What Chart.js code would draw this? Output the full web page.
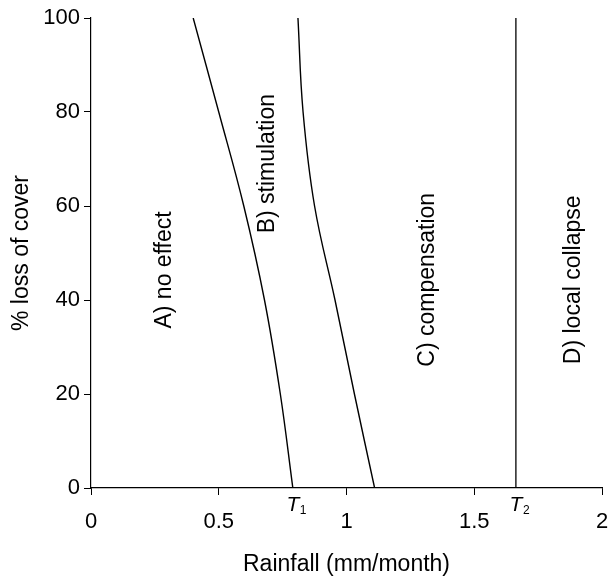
<!DOCTYPE html>
<html>
<head>
<meta charset="utf-8">
<script src="https://cdn.jsdelivr.net/npm/chart.js@4"></script>
<style>
    body { margin: 0; background: #fff; }
    #wrap { width: 608px; height: 579px; }
</style>
</head>
<body>
<div id="wrap"><canvas id="rainChart" width="608" height="579"></canvas></div>
<script>
// % loss of cover (y) sampled along the two boundary curves
const coverLoss = [100, 80, 60, 40, 20, 0];
// rainfall (mm/month) on the no effect / stimulation boundary
const stimBoundary = [0.40, 0.50, 0.598, 0.679, 0.741, 0.79];
// rainfall on the stimulation / compensation boundary
const compBoundary = [0.81, 0.83, 0.875, 0.955, 1.031, 1.11];
// rainfall of the local collapse threshold (vertical line)
const collapseRain = 1.663;
const collapseCover = [0, 100];

const xTicks = [0, 0.5, 1, 1.5, 2];
const yTicks = [0, 20, 40, 60, 80, 100];

const thresholdSubs = ['1', '2'];
const thresholdValues = [0.79, 1.663];

const regionNames = ['A) no effect', 'B) stimulation', 'C) compensation', 'D) local collapse'];

const FONT = "'Liberation Sans', Arial, sans-serif";

// where the rotated region names sit, in data units
const regionAnchors = {
    x: [0.29, 0.693, 1.319, 1.89],
    y: [46.4, 69, 44.3, 44.3]
};

const annotatePlugin = {
    id: 'annotate',
    afterDatasetsDraw(chart) {
        const ctx = chart.ctx;
        const xs = chart.scales.x;
        const ys = chart.scales.y;
        ctx.save();
        ctx.fillStyle = '#000';

        // region names, rotated
        ctx.font = `23px ${FONT}`;
        ctx.textAlign = 'center';
        ctx.textBaseline = 'middle';
        regionNames.forEach((name, i) => {
            const px = xs.getPixelForValue(regionAnchors.x[i]);
            const py = ys.getPixelForValue(regionAnchors.y[i]);
            ctx.save();
            ctx.translate(px, py);
            ctx.rotate(-Math.PI / 2);
            ctx.fillText(name, 0, 0);
            ctx.restore();
        });

        // T1 / T2 under the axis
        thresholdValues.forEach((v, i) => {
            const px = xs.getPixelForValue(v);
            const py = xs.top + 17;
            ctx.font = `italic 21px ${FONT}`;
            ctx.textAlign = 'center';
            ctx.fillText('T', px, py);
            ctx.font = `12px ${FONT}`;
            ctx.textAlign = 'left';
            ctx.fillText(thresholdSubs[i], px + 7, py + 6);
        });
        ctx.restore();
    }
};

const toPoints = (xsArr, ysArr) => xsArr.map((x, i) => ({ x: x, y: ysArr[i] }));

const lineStyle = {
    borderColor: '#000',
    borderWidth: 1.4,
    pointRadius: 0,
    showLine: true,
    fill: false
};

const curveStyle = Object.assign({ tension: 0.4 }, lineStyle);

new Chart(document.getElementById('rainChart').getContext('2d'), {
    type: 'scatter',
    data: {
        datasets: [
            Object.assign({ data: toPoints(stimBoundary, coverLoss) }, curveStyle),
            Object.assign({ data: toPoints(compBoundary, coverLoss) }, curveStyle),
            Object.assign({ data: collapseCover.map(y => ({ x: collapseRain, y: y })) }, lineStyle, { borderWidth: 1.3 })
        ]
    },
    options: {
        responsive: false,
        animation: false,
        layout: { padding: { top: 18, right: 6, left: 0, bottom: 0 } },
        plugins: {
            legend: { display: false },
            tooltip: { enabled: false }
        },
        scales: {
            x: {
                type: 'linear',
                min: 0,
                max: 2,
                afterBuildTicks: (s) => { s.ticks = xTicks.map(v => ({ value: v })); },
                afterFit: (s) => { s.height = 91; s.paddingRight = 0; s.paddingLeft = 0; },
                grid: { display: true, drawOnChartArea: false, tickLength: 7, tickColor: '#000' },
                border: { display: true, color: '#000', width: 1.2 },
                ticks: {
                    color: '#000',
                    padding: 14,
                    maxRotation: 0,
                    font: { family: FONT, size: 22 },
                    callback: (v) => String(v)
                },
                title: {
                    display: true,
                    text: 'Rainfall (mm/month)',
                    color: '#000',
                    font: { family: FONT, size: 23 },
                    padding: { top: 0, bottom: 1 }
                }
            },
            y: {
                type: 'linear',
                min: 0,
                max: 100,
                afterBuildTicks: (s) => { s.ticks = yTicks.map(v => ({ value: v })); },
                afterFit: (s) => { s.width = 91; },
                grid: { display: true, drawOnChartArea: false, tickLength: 7, tickColor: '#000' },
                border: { display: true, color: '#000', width: 1.2 },
                ticks: {
                    color: '#000',
                    padding: 4,
                    font: { family: FONT, size: 22 }
                },
                title: {
                    display: true,
                    text: '% loss of cover',
                    color: '#000',
                    font: { family: FONT, size: 23 },
                    padding: { top: 8, bottom: 0 }
                }
            }
        }
    },
    plugins: [annotatePlugin]
});
</script>
</body>
</html>
